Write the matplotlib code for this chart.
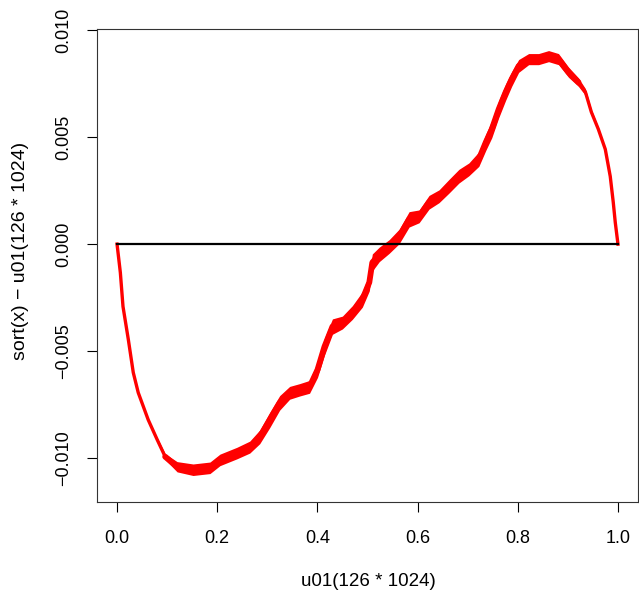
import matplotlib
matplotlib.use("Agg")
import matplotlib.pyplot as plt
import numpy as np

# centre line of the red band
x_vals = [0.0, 0.0066, 0.0119, 0.0225, 0.0324, 0.0423, 0.0622, 0.0801, 0.0961,
          0.1199, 0.1517, 0.1855, 0.2054, 0.2392, 0.2650, 0.2849, 0.3048, 0.3247,
          0.3446, 0.3644, 0.3843, 0.4002, 0.4141, 0.4300, 0.4499, 0.4698, 0.4897,
          0.5036, 0.5096, 0.5235, 0.5433, 0.5632, 0.5831, 0.6030, 0.6229, 0.6428,
          0.6627, 0.6825, 0.7024, 0.7223, 0.7362, 0.7481, 0.7620, 0.7759, 0.7879,
          0.8018, 0.8217, 0.8416, 0.8615, 0.8813, 0.9012, 0.9211, 0.9350, 0.9469,
          0.9608, 0.9747, 0.9846, 0.9906, 0.9946, 1.0]
y_vals = [0.0, -0.00133, -0.00292, -0.00446, -0.00601, -0.00695, -0.00822, -0.00915, -0.00995,
          -0.01042, -0.01056, -0.01047, -0.01010, -0.00978, -0.00950, -0.00902, -0.00823, -0.00743,
          -0.00696, -0.00682, -0.00668, -0.00588, -0.00480, -0.00386, -0.00367, -0.00320, -0.00259,
          -0.00179, -0.00086, -0.00048, -0.00011, 0.00036, 0.00116, 0.00130, 0.00196, 0.00224,
          0.00271, 0.00318, 0.00350, 0.00398, 0.00477, 0.00538, 0.00632, 0.00712, 0.00773,
          0.00834, 0.00866, 0.00866, 0.00880, 0.00866, 0.00805, 0.00758, 0.00712, 0.00618,
          0.00538, 0.00444, 0.00317, 0.00196, 0.00102, 0.0]
# half thickness of the noisy band (data units)
half_width = [0.00002, 0.00002, 0.00002, 0.00003, 0.00003, 0.00004, 0.00006, 0.00009, 0.00014,
              0.00024, 0.00027, 0.00027, 0.00027, 0.00027, 0.00028, 0.00032, 0.00036, 0.00034,
              0.00030, 0.00029, 0.00030, 0.00036, 0.00040, 0.00036, 0.00030, 0.00032, 0.00036,
              0.00040, 0.00040, 0.00034, 0.00032, 0.00034, 0.00036, 0.00030, 0.00032, 0.00030,
              0.00032, 0.00032, 0.00030, 0.00034, 0.00038, 0.00040, 0.00040, 0.00038, 0.00034,
              0.00030, 0.00026, 0.00026, 0.00026, 0.00026, 0.00024, 0.00020, 0.00016, 0.00012,
              0.00009, 0.00006, 0.00004, 0.00002, 0.00002, 0.00002]

x_ticks = [0.0, 0.2, 0.4, 0.6, 0.8, 1.0]
y_ticks = [-0.010, -0.005, 0.000, 0.005, 0.010]
x_label = "u01(126 * 1024)"
y_label = "sort(x) \u2212 u01(126 * 1024)"

plt.rcParams['font.family'] = ['Liberation Sans', 'DejaVu Sans']

W, H = 639, 594
fig = plt.figure(figsize=(W / 100, H / 100), dpi=100)
ax = fig.add_axes([97 / W, 1 - 502 / H, (638 - 97) / W, (502 - 29) / H])

xa = np.array(x_vals)
ya = np.array(y_vals)
hw = np.array(half_width)
ax.fill_between(xa, ya - hw, ya + hw, color='#ff0000', linewidth=0)
ax.plot(xa, ya, color='#ff0000', lw=2.4, solid_joinstyle='round')
mid = (xa > 0.09) & (xa < 0.93)
ax.plot(xa[mid], ya[mid], color='#ff0000', lw=4.2, solid_joinstyle='round',
        solid_capstyle='round')
ax.plot([0, 1], [0, 0], color='black', lw=1.6)

ax.set_xlim(-0.04, 1.04)
ax.set_ylim(-0.01207, 0.01007)
ax.set_xticks(x_ticks)
ax.set_xticklabels([f"{v:.1f}" for v in x_ticks])
ax.set_yticks(y_ticks)
ax.set_yticklabels([f"{v:.3f}".replace('-', '\u2212') for v in y_ticks],
                   rotation=90, va='center')
ax.tick_params(axis='x', length=7.5, width=0.8, pad=12.5, labelsize=13)
ax.tick_params(axis='y', length=7.5, width=0.8, pad=10.5, labelsize=13)
for s in ax.spines.values():
    s.set_linewidth(0.8)
    s.set_color('#333333')

fig.text(368 / W, 1 - 582 / H, x_label, ha='center', va='center', fontsize=13.5)
fig.text(21 / W, 1 - 251 / H, y_label, ha='center', va='center', rotation=90, fontsize=14)

fig.savefig("out.png", dpi=100)
